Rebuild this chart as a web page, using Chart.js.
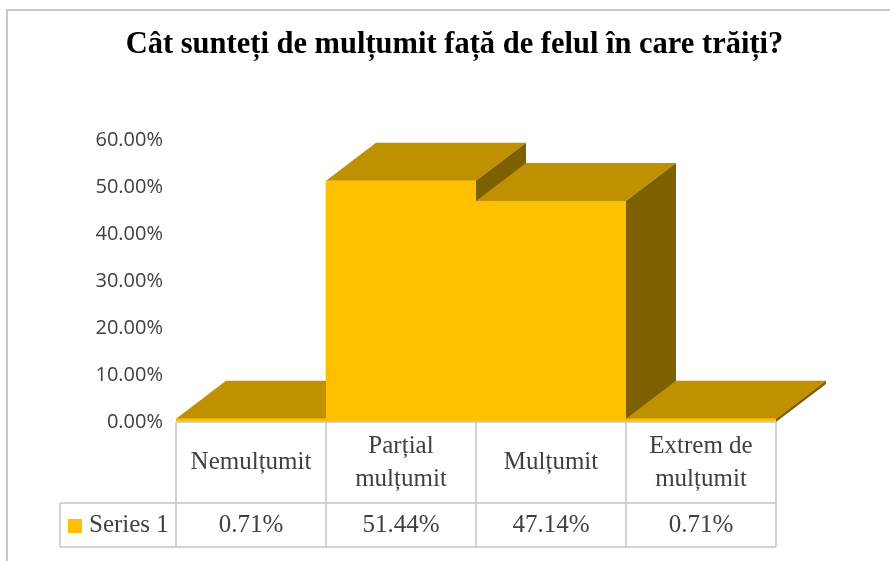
<!DOCTYPE html>
<html>
<head>
<meta charset="utf-8">
<script src="https://cdn.jsdelivr.net/npm/chart.js@4"></script>
<style>
  html, body { margin: 0; padding: 0; background: #fff; }
  canvas { display: block; }
</style>
</head>
<body>
<canvas id="chart" width="890" height="561"></canvas>
<script>
const titleText = "Cât sunteți de mulțumit față de felul în care trăiți?";
const seriesName = "Series 1";
const categories = [["Nemulțumit"], ["Parțial", "mulțumit"], ["Mulțumit"], ["Extrem de", "mulțumit"]];
const values = [0.0071, 0.5144, 0.4714, 0.0071];
const yMax = 0.6;
const yStep = 0.1;

const FRONT = "#FFC000";
const TOP = "#BF9000";
const SIDE = "#7F6000";
const GRID = "#c6c6c6";
const TEXT = "#404040";

const pct = (v) => (v * 100).toFixed(2) + "%";

// faux 3D: top + side faces drawn from each bar element, left to right
const bars3d = {
  id: "bars3d",
  afterDatasetsDraw(chart) {
    const ctx = chart.ctx;
    const dx = 50, dy = -38;
    chart.getDatasetMeta(0).data.forEach((bar) => {
      const { x, y, base, width } = bar.getProps(["x", "y", "base", "width"], true);
      const l = x - width / 2, r = x + width / 2;
      ctx.save();
      ctx.fillStyle = TOP;
      ctx.beginPath();
      ctx.moveTo(l, y); ctx.lineTo(r, y); ctx.lineTo(r + dx, y + dy); ctx.lineTo(l + dx, y + dy);
      ctx.closePath(); ctx.fill();
      ctx.fillStyle = SIDE;
      ctx.beginPath();
      ctx.moveTo(r, y); ctx.lineTo(r + dx, y + dy); ctx.lineTo(r + dx, base + dy); ctx.lineTo(r, base);
      ctx.closePath(); ctx.fill();
      ctx.fillStyle = FRONT;
      ctx.fillRect(l, y, width, base - y);
      ctx.restore();
    });
  },
};

// frame + data table under the plot
const dataTable = {
  id: "dataTable",
  beforeDraw(chart) {
    const ctx = chart.ctx;
    ctx.save();
    ctx.strokeStyle = "#c8c8c8";
    ctx.lineWidth = 2;
    ctx.beginPath();
    ctx.moveTo(7, 561); ctx.lineTo(7, 10); ctx.lineTo(890, 10);
    ctx.stroke();
    ctx.restore();
  },
  afterDraw(chart) {
    const ctx = chart.ctx;
    const area = chart.chartArea;
    const bars = chart.getDatasetMeta(0).data;
    const top = area.bottom;
    const mid = top + 81;
    const bottom = top + 125;
    const keyLeft = 60;
    const edges = [];
    bars.forEach((b, i) => {
      if (i === 0) edges.push(b.x - b.width / 2);
      edges.push(b.x + b.width / 2);
    });

    ctx.save();
    ctx.strokeStyle = GRID;
    ctx.lineWidth = 1.5;
    ctx.beginPath();
    ctx.moveTo(edges[0], top); ctx.lineTo(edges[edges.length - 1], top);
    ctx.moveTo(keyLeft, mid); ctx.lineTo(edges[edges.length - 1], mid);
    ctx.moveTo(keyLeft, bottom); ctx.lineTo(edges[edges.length - 1], bottom);
    ctx.moveTo(keyLeft, mid); ctx.lineTo(keyLeft, bottom);
    edges.forEach((ex) => { ctx.moveTo(ex, top); ctx.lineTo(ex, bottom); });
    ctx.stroke();

    ctx.fillStyle = TEXT;
    ctx.font = "25px 'Liberation Serif'";
    ctx.textAlign = "center";
    ctx.textBaseline = "middle";
    const headMid = (top + mid) / 2;
    const rowMid = (mid + bottom) / 2;
    bars.forEach((b, i) => {
      const lines = categories[i];
      const lh = 33;
      lines.forEach((t, k) => {
        ctx.fillText(t, b.x, headMid + (k - (lines.length - 1) / 2) * lh);
      });
      ctx.fillText(pct(values[i]), b.x, rowMid);
    });

    // legend key
    ctx.fillStyle = FRONT;
    ctx.fillRect(keyLeft + 8, rowMid - 6, 14, 14);
    ctx.fillStyle = TEXT;
    ctx.textAlign = "left";
    ctx.fillText(seriesName, keyLeft + 29, rowMid);
    ctx.restore();
  },
};

new Chart(document.getElementById("chart"), {
  type: "bar",
  data: {
    labels: categories,
    datasets: [
      {
        label: seriesName,
        data: values,
        backgroundColor: FRONT,
        categoryPercentage: 1,
        barPercentage: 1,
      },
    ],
  },
  options: {
    responsive: false,
    animation: false,
    devicePixelRatio: 1,
    layout: { padding: { top: 0, left: 19, right: 0, bottom: 139 } },
    plugins: {
      legend: { display: false },
      tooltip: { enabled: false },
      title: {
        display: true,
        text: titleText,
        color: "#000",
        font: { family: "'Liberation Serif'", size: 30.5, weight: "bold" },
        padding: { top: 27, bottom: 77 },
      },
    },
    scales: {
      x: { display: false },
      y: {
        min: 0,
        max: yMax,
        border: { display: false },
        grid: { display: false, drawTicks: false },
        ticks: {
          stepSize: yStep,
          padding: 13,
          color: TEXT,
          font: { family: "'Open Sans'", size: 20 },
          callback: (v) => pct(v),
        },
        afterFit: (scale) => { scale.width = 157; },
      },
      // empty right axis, only reserves room for the 3D depth
      yRight: {
        position: "right",
        min: 0,
        max: yMax,
        border: { display: false },
        grid: { display: false, drawTicks: false },
        ticks: { display: false },
        afterFit: (scale) => { scale.width = 114; },
      },
    },
  },
  plugins: [bars3d, dataTable],
});
</script>
</body>
</html>
